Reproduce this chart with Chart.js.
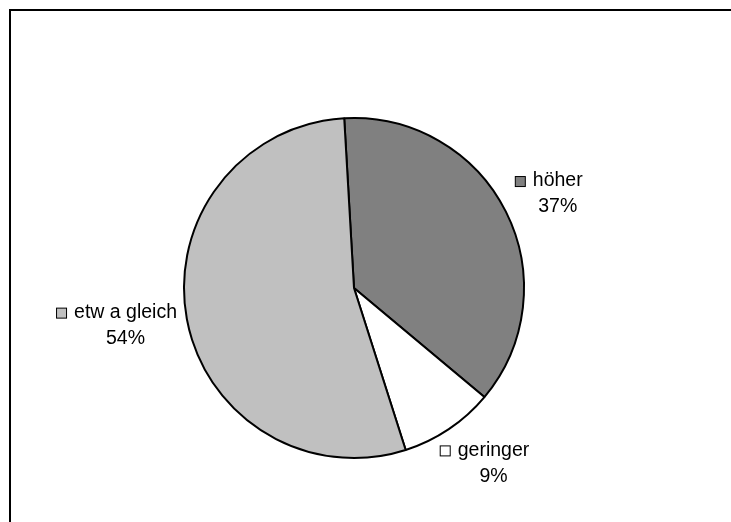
<!DOCTYPE html>
<html>
<head>
<meta charset="utf-8">
<script src="https://cdn.jsdelivr.net/npm/chart.js@4/dist/chart.umd.min.js"></script>
<style>
  body { margin: 0; background: #fff; }
  #frame {
    position: absolute;
    left: 9px;
    top: 9px;
    width: 722px;
    height: 513px;
    border-top: 2px solid #000;
    border-left: 2px solid #000;
    box-sizing: border-box;
  }
  #myChart { position: absolute; left: 0; top: 0; }
</style>
</head>
<body>
<div id="frame"></div>
<canvas id="myChart" width="731" height="522"></canvas>
<script>
const ctx = document.querySelector('#myChart');

const categories = ['höher', 'geringer', 'etw a gleich'];
const shares = [37, 9, 54];
const sliceColors = ['#808080', '#FFFFFF', '#C0C0C0'];

const FONT = '19.5px "Liberation Sans", Arial, sans-serif';
const LINE_HEIGHT = 26;
const KEY_SIZE = 10;
const KEY_GAP = 8;
const LABEL_GAP = 10;
const START_ROTATION = -3.3;

/**
 * Draws the category key and the percentage next to each slice,
 * the way the spreadsheet places its data labels.
 */
const sliceLabels = {
  id: 'sliceLabels',
  afterDatasetsDraw(chart) {
    const c = chart.ctx;
    const arcs = chart.getDatasetMeta(0).data;
    c.save();
    c.font = FONT;
    c.textBaseline = 'middle';
    c.fillStyle = '#000';
    arcs.forEach((arc, i) => {
      const p = arc.getProps(['x', 'y', 'startAngle', 'endAngle', 'outerRadius'], true);
      const mid = (p.startAngle + p.endAngle) / 2;
      const dx = Math.cos(mid);
      const dy = Math.sin(mid);
      const name = categories[i];
      const pct = shares[i] + '%';
      const nameWidth = c.measureText(name).width;
      const w = KEY_SIZE + KEY_GAP + nameWidth;
      const h = LINE_HEIGHT * 2;
      const ax = p.x + (p.outerRadius + LABEL_GAP) * dx;
      const ay = p.y + (p.outerRadius + LABEL_GAP) * dy;
      const m = Math.max(Math.abs(dx), Math.abs(dy));
      const cx = ax + dx / m * w / 2;
      const cy = ay + dy / m * h / 2;
      const left = cx - w / 2;
      const top = cy - h / 2;
      const line1 = top + LINE_HEIGHT / 2;
      const line2 = top + LINE_HEIGHT * 1.5;

      c.fillStyle = sliceColors[i];
      c.fillRect(left + 0.5, line1 - KEY_SIZE / 2 + 0.5, KEY_SIZE, KEY_SIZE);
      c.strokeStyle = '#000';
      c.lineWidth = 1;
      c.strokeRect(left + 0.5, line1 - KEY_SIZE / 2 + 0.5, KEY_SIZE, KEY_SIZE);

      c.fillStyle = '#000';
      c.textAlign = 'left';
      const textX = left + KEY_SIZE + KEY_GAP;
      c.fillText(name, textX, line1);
      c.textAlign = 'center';
      c.fillText(pct, textX + nameWidth / 2, line2);
    });
    c.restore();
  },
};

new Chart(ctx, {
  type: 'pie',
  data: {
    labels: categories,
    datasets: [{
      data: shares,
      backgroundColor: sliceColors,
      borderColor: '#000',
      borderWidth: 2,
    }],
  },
  options: {
    responsive: false,
    animation: false,
    rotation: START_ROTATION,
    layout: {
      padding: {left: 183, right: 206, top: 117, bottom: 63},
    },
    plugins: {
      legend: {display: false},
      tooltip: {enabled: false},
    },
  },
  plugins: [sliceLabels],
});
</script>
</body>
</html>
